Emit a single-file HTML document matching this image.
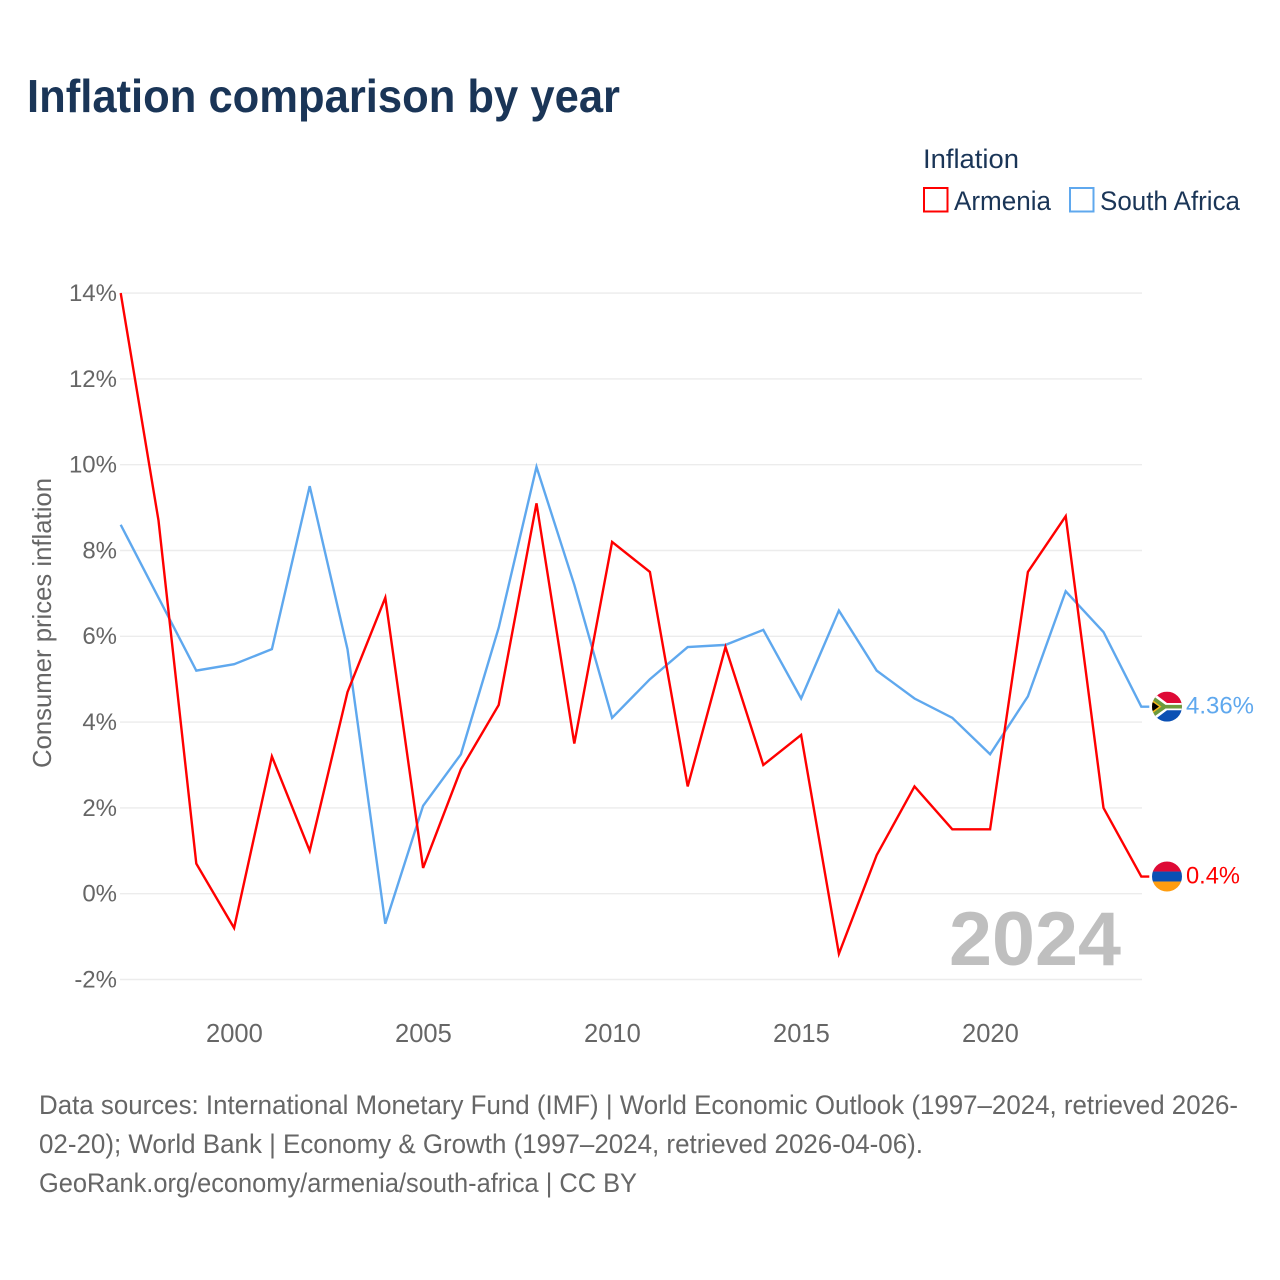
<!DOCTYPE html>
<html lang="en">
<head>
<meta charset="utf-8">
<title>Inflation comparison by year</title>
<style>
html,body{margin:0;padding:0;background:#fff;width:1280px;height:1280px;overflow:hidden}
svg{display:block;font-family:"Liberation Sans",sans-serif}
</style>
</head>
<body>
<svg id="chart" xmlns="http://www.w3.org/2000/svg" width="1280" height="1280" viewBox="0 0 1280 1280">
  <defs>
    <clipPath id="flag-clip"><circle cx="0" cy="0" r="15"/></clipPath>
  </defs>
  <rect width="1280" height="1280" fill="#ffffff"/>
  <text x="27" y="112" font-size="46" font-weight="700" fill="#1a3557" textLength="593" lengthAdjust="spacingAndGlyphs">Inflation comparison by year</text>

  <g>
    <text x="923" y="168" font-size="27" fill="#1a3557" textLength="96" lengthAdjust="spacingAndGlyphs">Inflation</text>
    <rect x="924" y="188" width="23.5" height="23.5" fill="#fff" stroke="#ff0000" stroke-width="2"/>
    <text x="954" y="210" font-size="27" fill="#1a3557" textLength="97" lengthAdjust="spacingAndGlyphs">Armenia</text>
    <rect x="1070" y="188" width="23.5" height="23.5" fill="#fff" stroke="#5fa8ee" stroke-width="2"/>
    <text x="1100" y="210" font-size="27" fill="#1a3557" textLength="140" lengthAdjust="spacingAndGlyphs">South Africa</text>
  </g>

  <g id="grid"></g>
  <g id="y-ticks"></g>
  <g id="x-ticks"></g>
  <text transform="translate(51,623) rotate(-90)" text-anchor="middle" font-size="26" fill="#666666" textLength="290" lengthAdjust="spacingAndGlyphs">Consumer prices inflation</text>
  <text id="year-watermark" x="1121" y="965" text-anchor="end" font-size="76" font-weight="700" fill="#bfbfbf" textLength="172" lengthAdjust="spacingAndGlyphs">2024</text>
  <g id="series"></g>

  <g id="flag-za">
    <g clip-path="url(#flag-clip)">
      <rect x="-15" y="-15" width="30" height="15" fill="#de0a36"/>
      <rect x="-15" y="0" width="30" height="15" fill="#0a50b4"/>
      <path d="M-15,-15 L0,-3.6 L15,-3.6 L15,3.6 L0,3.6 L-15,15 Z" fill="#ffffff"/>
      <path d="M-15,-11.5 L-1.5,-1.8 L15,-1.8 L15,1.8 L-1.5,1.8 L-15,11.5 Z" fill="#6d9a3d"/>
      <path d="M-15,-7 L-5.5,0 L-15,7 Z" fill="#f4b81e"/>
      <path d="M-15,-5 L-8,0 L-15,5 Z" fill="#000000"/>
    </g>
  </g>
  <g id="flag-am">
    <g clip-path="url(#flag-clip)">
      <rect x="-15" y="-15" width="30" height="10" fill="#de0a36"/>
      <rect x="-15" y="-5" width="30" height="10" fill="#0a50b4"/>
      <rect x="-15" y="5" width="30" height="10" fill="#ff9d0f"/>
    </g>
  </g>

  <g font-size="27" fill="#666666">
    <text x="39" y="1114" textLength="1199" lengthAdjust="spacingAndGlyphs">Data sources: International Monetary Fund (IMF) | World Economic Outlook (1997–2024, retrieved 2026-</text>
    <text x="39" y="1153" textLength="884" lengthAdjust="spacingAndGlyphs">02-20); World Bank | Economy &amp; Growth (1997–2024, retrieved 2026-04-06).</text>
    <text x="39" y="1192" textLength="598" lengthAdjust="spacingAndGlyphs">GeoRank.org/economy/armenia/south-africa | CC BY</text>
  </g>
</svg>
<script>
var years = [1997,1998,1999,2000,2001,2002,2003,2004,2005,2006,2007,2008,2009,2010,2011,2012,2013,2014,2015,2016,2017,2018,2019,2020,2021,2022,2023,2024];
var armenia = [14,8.7,0.7,-0.8,3.2,1.0,4.7,6.9,0.6,2.9,4.4,9.1,3.5,8.2,7.5,2.5,5.75,3.0,3.7,-1.4,0.9,2.5,1.5,1.5,7.5,8.8,2.0,0.4];
var southAfrica = [8.6,6.9,5.2,5.35,5.7,9.5,5.7,-0.7,2.05,3.25,6.2,9.95,7.2,4.1,5.0,5.75,5.8,6.15,4.55,6.6,5.2,4.55,4.1,3.25,4.6,7.05,6.1,4.36];
var yTicks = [-2,0,2,4,6,8,10,12,14];
var xTicks = [2000,2005,2010,2015,2020];
var armeniaLabel = "0.4%";
var southAfricaLabel = "4.36%";

var NS = "http://www.w3.org/2000/svg";
function xScale(year){ return 120.7 + (year - 1997) * 37.8; }
function yScale(v){ return 893.7 - v * 42.9; }
function make(tag, parent){
  var el = document.createElementNS(NS, tag);
  parent.appendChild(el);
  return el;
}
var grid = document.getElementById("grid");
var yG = document.getElementById("y-ticks");
var xG = document.getElementById("x-ticks");
var seriesG = document.getElementById("series");
var svg = document.getElementById("chart");

yTicks.forEach(function(t){
  var line = make("line", grid);
  
  
  line.setAttribute("x1", 120);
  line.setAttribute("x2", 1142);
  line.setAttribute("y1", yScale(t));
  line.setAttribute("y2", yScale(t));
  line.setAttribute("stroke", "#ececec");
  line.setAttribute("stroke-width", "1.4");
  var label = make("text", yG);
  
  
  label.setAttribute("x", 117);
  label.setAttribute("y", yScale(t) + 7.9);
  label.setAttribute("text-anchor", "end");
  label.setAttribute("font-size", "24");
  label.setAttribute("fill", "#666666");
  label.textContent = t + "%";
});

xTicks.forEach(function(t){
  var label = make("text", xG);
  
  
  label.setAttribute("x", xScale(t) + 0.3);
  label.setAttribute("y", 1042);
  label.setAttribute("text-anchor", "middle");
  label.setAttribute("font-size", "25.5");
  label.setAttribute("fill", "#666666");
  label.textContent = t;
});

function pathFor(values){
  var d = "";
  values.forEach(function(v, i){
    d += (i ? "L" : "M") + xScale(years[i]).toFixed(2) + "," + yScale(v).toFixed(2);
  });
  var last = values.length - 1;
  d += "L" + (xScale(years[last]) + 8).toFixed(2) + "," + yScale(values[last]).toFixed(2);
  return d;
}

var lineSa = make("path", seriesG);


lineSa.setAttribute("d", pathFor(southAfrica));
lineSa.setAttribute("fill", "none");
lineSa.setAttribute("stroke", "#5fa8ee");
lineSa.setAttribute("stroke-width", "2.4");

var lineAm = make("path", seriesG);


lineAm.setAttribute("d", pathFor(armenia));
lineAm.setAttribute("fill", "none");
lineAm.setAttribute("stroke", "#ff0000");
lineAm.setAttribute("stroke-width", "2.4");

var lastX = xScale(years[years.length - 1]);
var saY = yScale(southAfrica[southAfrica.length - 1]);
var amY = yScale(armenia[armenia.length - 1]);
document.getElementById("flag-za").setAttribute("transform", "translate(" + (lastX + 25.7) + "," + saY + ")");
document.getElementById("flag-am").setAttribute("transform", "translate(" + (lastX + 25.7) + "," + amY + ")");

var saText = make("text", svg);


saText.setAttribute("x", lastX + 44.7);
saText.setAttribute("y", saY + 6.8);
saText.setAttribute("font-size", "24.5");
saText.setAttribute("fill", "#5fa8ee");
saText.setAttribute("textLength", "68");
saText.setAttribute("lengthAdjust", "spacingAndGlyphs");
saText.textContent = southAfricaLabel;

var amText = make("text", svg);


amText.setAttribute("x", lastX + 44.7);
amText.setAttribute("y", amY + 6.8);
amText.setAttribute("font-size", "24.5");
amText.setAttribute("fill", "#ff0000");
amText.setAttribute("textLength", "54");
amText.setAttribute("lengthAdjust", "spacingAndGlyphs");
amText.textContent = armeniaLabel;
</script>
</body>
</html>
